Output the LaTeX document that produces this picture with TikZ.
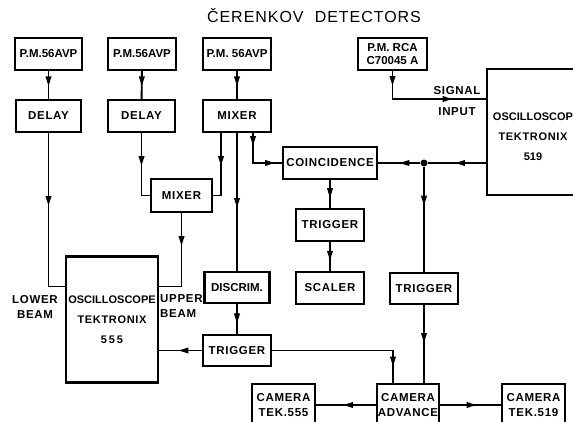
\documentclass[tikz,border=0pt]{standalone}
\usepackage{fontspec}
\setmainfont{Liberation Sans}
\newfontfamily\bxfont[LetterSpace=6]{Liberation Sans}
\newfontfamily\ttlfont[LetterSpace=6]{Liberation Sans}
\usetikzlibrary{arrows.meta,decorations.markings}
\tikzset{
  box/.style={draw, line width=2.1pt, inner sep=0pt, align=center,
    font=\bxfont\bfseries\fontsize{11.5}{14}\selectfont},
  plainbox/.style={box, font=\bfseries\fontsize{11.5}{13.5}\selectfont},
  oscbox/.style={draw, line width=2.1pt, inner sep=0pt,
    minimum width=92pt, minimum height=126pt},
  osctext/.style={align=center, font=\bfseries\fontsize{11}{20}\selectfont},
  lbl/.style={inner sep=0pt, font=\bxfont\bfseries\fontsize{11.5}{14.5}\selectfont},
  wire/.style={line width=1.9pt},
  arrowat/.style={postaction={decorate}, decoration={markings,
    mark=at position #1 with {\arrow{Triangle[length=10pt,width=5.5pt]}}}},
  arrowattwo/.style 2 args={postaction={decorate}, decoration={markings,
    mark=at position #1 with {\arrow{Triangle[length=10pt,width=5.5pt]}},
    mark=at position #2 with {\arrow{Triangle[length=10pt,width=5.5pt]}}}},
  dot/.style={circle, fill, inner sep=0pt, minimum size=7pt},
}
\begin{document}
\begin{tikzpicture}[x=1pt, y=-1pt]
\useasboundingbox (0,0) rectangle (573,421);
% title
\node[font=\ttlfont\fontsize{16}{18}\selectfont, inner sep=0pt] (title) at (314,16) {ČERENKOV\hspace{0.7em}DETECTORS};
% top row
\node[plainbox, minimum width=67pt, minimum height=32pt] (PM1) at (48.5,54) {P.M.56AVP};
\node[plainbox, minimum width=68pt, minimum height=32pt] (PM2) at (142,54) {P.M.56AVP};
\node[plainbox, minimum width=68pt, minimum height=32pt] (PM3) at (237,54) {P.M. 56AVP};
\node[plainbox, minimum width=69pt, minimum height=32pt] (PMRCA) at (392.5,54) {P.M. RCA\\C70045 A};
% second row
\node[box, minimum width=65pt, minimum height=32pt] (D1) at (48.5,116) {DELAY};
\node[box, minimum width=67pt, minimum height=32pt] (D2) at (141.5,116) {DELAY};
\node[box, minimum width=68pt, minimum height=32pt] (Mx) at (237,116) {MIXER};
\node[box, minimum width=61pt, minimum height=33pt] (Mx2) at (181.5,195.5) {MIXER};
% oscilloscopes
\node[oscbox, label={[osctext]center:OSCILLOSCOPE\\{\bxfont TEKTRONIX}\\5\,5\,5}] (Osc555) at (112,319.5) {};
\node[oscbox, label={[osctext, yshift=-5pt]center:OSCILLOSCOP\\{\bxfont TEKTRONIX}\\519}] (Osc519) at (533,132) {};
% middle
\node[box, minimum width=94pt, minimum height=32pt] (Coinc) at (330,163) {COINCIDENCE};
\node[box, minimum width=68pt, minimum height=32pt] (TrM) at (330,225) {TRIGGER};
\node[box, minimum width=68pt, minimum height=32pt] (Scal) at (330,288) {SCALER};
\node[box, minimum width=68pt, minimum height=31pt] (TrR) at (424,288.5) {TRIGGER};
\node[plainbox, minimum width=65pt, minimum height=31pt] (Disc) at (237,287.5) {DISCRIM.};
\node[box, minimum width=68pt, minimum height=31pt] (TrL) at (237,350.5) {TRIGGER};
% bottom
\node[box, minimum width=62pt, minimum height=42pt, font=\bxfont\bfseries\fontsize{11.5}{15.5}\selectfont] (CamA) at (408,405) {CAMERA\\ADVANCE};
\node[box, minimum width=63pt, minimum height=42pt, font=\bxfont\bfseries\fontsize{11.5}{15.5}\selectfont] (Cam555) at (283.5,405) {CAMERA\\TEK.555};
\node[box, minimum width=63pt, minimum height=42pt, font=\bxfont\bfseries\fontsize{11.5}{15.5}\selectfont] (Cam519) at (533.5,405) {CAMERA\\TEK.519};
% junction
\node[dot] (jn) at (424,163) {};
% labels
\node[lbl] (sig) at (457,91) {SIGNAL};
\node[lbl] (inp) at (457,112) {INPUT};
\node[lbl, align=center] (lower) at (35,307) {LOWER\\BEAM};
\node[lbl, align=left, anchor=west] (upper) at (160,306) {UPPER\\BEAM};
% connectors
\draw[wire, arrowat=0.55] (PM1) -- (D1);
\draw[wire, arrowat=0.55] (PM2) -- (D2);
\draw[wire, arrowat=0.55] (PM3) -- (Mx);
\draw[wire, arrowat=73pt] (D1.south) |- ([yshift=-31pt]Osc555.north west);
\draw[wire, arrowat=33pt] (Mx2.south) |- ([yshift=-31pt]Osc555.north east);
\draw[wire, arrowat=33pt] (D2.south) |- (Mx2.west);
\draw[wire, arrowat=33pt] ([xshift=-16pt]Mx.south) |- (Mx2.east);
\draw[wire, arrowat=75pt] (Mx.south) -- (Disc.north);
\draw[wire, arrowattwo={13pt}{52pt}] ([xshift=16pt]Mx.south) |- (Coinc.west);
\draw[wire, arrowat=0.65] (Coinc) -- (TrM);
\draw[wire, arrowat=0.65] (TrM) -- (Scal);
\draw[wire, arrowat=0.65] (Disc) -- (TrL);
\draw[wire, arrowat=31pt] ([yshift=-31pt]Osc519.west) -- (jn);
\draw[wire, arrowat=21pt] (jn) -- (Coinc.east);
\draw[wire, arrowat=39pt] (jn) -- (TrR.north);
\draw[wire, arrowat=38pt] (TrR.south) -- (TrR.south |- CamA.north);
\draw[wire, arrowat=137pt] (TrL.east) -| ([xshift=-15pt]CamA.north);
\draw[wire, arrowat=0.55] (TrL.west) -- (TrL.west -| Osc555.east);
\draw[wire, arrowat=0.55] (CamA.west) -- (Cam555.east);
\draw[wire, arrowat=0.6] (CamA.east) -- (Cam519.west);
\draw[wire, arrowattwo={15pt}{88pt}] (PMRCA.south) |- ([yshift=33pt]Osc519.west);
\end{tikzpicture}
\end{document}
